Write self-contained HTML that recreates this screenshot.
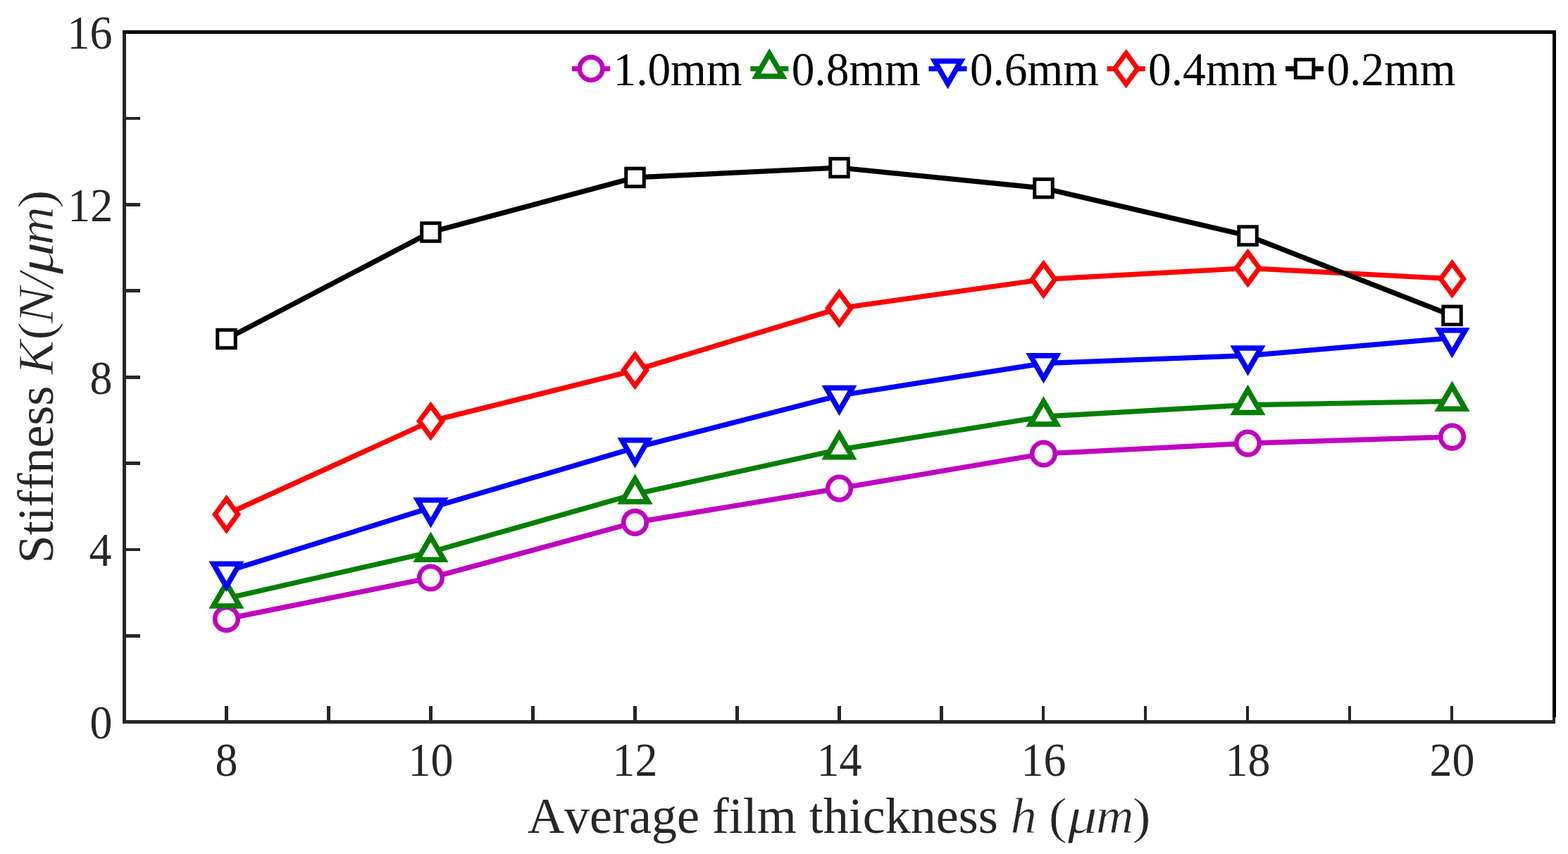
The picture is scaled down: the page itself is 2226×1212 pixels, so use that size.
<!DOCTYPE html>
<html lang="en"><head><meta charset="utf-8"><title>Stiffness vs average film thickness</title>
<style>
html,body{margin:0;padding:0;background:#fff;}
body{width:2226px;height:1212px;overflow:hidden;}
svg{display:block;}
text{font-family:"Liberation Serif","DejaVu Serif",serif;font-kerning:none;font-variant-ligatures:none;}
.tk{font-size:64px;fill:#262626;}
.lg{font-size:64px;fill:#000;}
.lb{font-size:72px;fill:#262626;}
.it{font-style:italic;}
.th{stroke:#fff;stroke-width:0.8px;}
</style></head><body>
<svg role="img" width="2226" height="1212" viewBox="0 0 2226 1212">
<title>Stiffness K(N/μm) versus Average film thickness h (μm)</title>
<desc>Line chart of Stiffness K(N/μm) against Average film thickness h (μm) from 8 to 20 for five series: 1.0mm, 0.8mm, 0.6mm, 0.4mm and 0.2mm.</desc>
<rect x="0" y="0" width="2226" height="1212" fill="#fff"/>
<g fill="#262626" shape-rendering="crispEdges">
<rect x="174" y="43" width="5" height="984"/>
<rect x="174" y="1022" width="2034" height="5"/>
<rect x="319" y="1002" width="5" height="21"/>
<rect x="464" y="1002" width="5" height="21"/>
<rect x="609" y="1002" width="5" height="21"/>
<rect x="754" y="1002" width="5" height="21"/>
<rect x="899" y="1002" width="5" height="21"/>
<rect x="1044" y="1002" width="5" height="21"/>
<rect x="1189" y="1002" width="5" height="21"/>
<rect x="1334" y="1002" width="5" height="21"/>
<rect x="1479" y="1002" width="4" height="21"/>
<rect x="1624" y="1002" width="4" height="21"/>
<rect x="1769" y="1002" width="4" height="21"/>
<rect x="1914" y="1002" width="4" height="21"/>
<rect x="2059" y="1002" width="4" height="21"/>
<rect x="2204" y="1002" width="4" height="21"/>
<rect x="178" y="900" width="21" height="5"/>
<rect x="178" y="778" width="21" height="4"/>
<rect x="178" y="655" width="21" height="5"/>
<rect x="178" y="532.5" width="21" height="5"/>
<rect x="178" y="410" width="21" height="5"/>
<rect x="178" y="288" width="21" height="5"/>
<rect x="178" y="166" width="21" height="4"/>
</g>
<g fill="#000" shape-rendering="crispEdges">
<rect x="174" y="43" width="2035" height="5"/>
<rect x="2204" y="43" width="5" height="975"/>
</g>
<polyline points="321.5,878.4 611.5,820 901.5,741.4 1191.5,693.1 1481.5,644 1771.5,629.1 2061.5,620.1" fill="none" stroke="#BF00BF" stroke-width="7.2" stroke-linejoin="round"/>
<circle cx="321.5" cy="878.4" r="16.3" fill="#fff" stroke="#BF00BF" stroke-width="6.6"/>
<circle cx="611.5" cy="820" r="16.3" fill="#fff" stroke="#BF00BF" stroke-width="6.6"/>
<circle cx="901.5" cy="741.4" r="16.3" fill="#fff" stroke="#BF00BF" stroke-width="6.6"/>
<circle cx="1191.5" cy="693.1" r="16.3" fill="#fff" stroke="#BF00BF" stroke-width="6.6"/>
<circle cx="1481.5" cy="644" r="16.3" fill="#fff" stroke="#BF00BF" stroke-width="6.6"/>
<circle cx="1771.5" cy="629.1" r="16.3" fill="#fff" stroke="#BF00BF" stroke-width="6.6"/>
<circle cx="2061.5" cy="620.1" r="16.3" fill="#fff" stroke="#BF00BF" stroke-width="6.6"/>
<polyline points="321.5,849.2 611.5,783.4 901.5,701.3 1191.5,638.1 1481.5,591.2 1771.5,574.7 2061.5,569.5" fill="none" stroke="#007F00" stroke-width="7.2" stroke-linejoin="round"/>
<polygon points="321.5,827.7 302.88,859.95 340.12,859.95" fill="#fff" stroke="#007F00" stroke-width="7.5" stroke-linejoin="miter" stroke-miterlimit="10"/>
<polygon points="611.5,761.9 592.88,794.15 630.12,794.15" fill="#fff" stroke="#007F00" stroke-width="7.5" stroke-linejoin="miter" stroke-miterlimit="10"/>
<polygon points="901.5,679.8 882.88,712.05 920.12,712.05" fill="#fff" stroke="#007F00" stroke-width="7.5" stroke-linejoin="miter" stroke-miterlimit="10"/>
<polygon points="1191.5,616.6 1172.88,648.85 1210.12,648.85" fill="#fff" stroke="#007F00" stroke-width="7.5" stroke-linejoin="miter" stroke-miterlimit="10"/>
<polygon points="1481.5,569.7 1462.88,601.95 1500.12,601.95" fill="#fff" stroke="#007F00" stroke-width="7.5" stroke-linejoin="miter" stroke-miterlimit="10"/>
<polygon points="1771.5,553.2 1752.88,585.45 1790.12,585.45" fill="#fff" stroke="#007F00" stroke-width="7.5" stroke-linejoin="miter" stroke-miterlimit="10"/>
<polygon points="2061.5,548 2042.88,580.25 2080.12,580.25" fill="#fff" stroke="#007F00" stroke-width="7.5" stroke-linejoin="miter" stroke-miterlimit="10"/>
<polyline points="321.5,811 611.5,720.5 901.5,635.5 1191.5,561.3 1481.5,515.6 1771.5,504.7 2061.5,479.5" fill="none" stroke="#0000FF" stroke-width="7.2" stroke-linejoin="round"/>
<polygon points="321.5,832.5 302.88,800.25 340.12,800.25" fill="#fff" stroke="#0000FF" stroke-width="7.5" stroke-linejoin="miter" stroke-miterlimit="10"/>
<polygon points="611.5,742 592.88,709.75 630.12,709.75" fill="#fff" stroke="#0000FF" stroke-width="7.5" stroke-linejoin="miter" stroke-miterlimit="10"/>
<polygon points="901.5,657 882.88,624.75 920.12,624.75" fill="#fff" stroke="#0000FF" stroke-width="7.5" stroke-linejoin="miter" stroke-miterlimit="10"/>
<polygon points="1191.5,582.8 1172.88,550.55 1210.12,550.55" fill="#fff" stroke="#0000FF" stroke-width="7.5" stroke-linejoin="miter" stroke-miterlimit="10"/>
<polygon points="1481.5,537.1 1462.88,504.85 1500.12,504.85" fill="#fff" stroke="#0000FF" stroke-width="7.5" stroke-linejoin="miter" stroke-miterlimit="10"/>
<polygon points="1771.5,526.2 1752.88,493.95 1790.12,493.95" fill="#fff" stroke="#0000FF" stroke-width="7.5" stroke-linejoin="miter" stroke-miterlimit="10"/>
<polygon points="2061.5,501 2042.88,468.75 2080.12,468.75" fill="#fff" stroke="#0000FF" stroke-width="7.5" stroke-linejoin="miter" stroke-miterlimit="10"/>
<polyline points="321.5,729.9 611.5,597.7 901.5,525.5 1191.5,437.5 1481.5,396.5 1771.5,380.5 2061.5,395.7" fill="none" stroke="#FF0000" stroke-width="7.2" stroke-linejoin="round"/>
<polygon points="321.5,707.8 337.7,729.9 321.5,752 305.3,729.9" fill="#fff" stroke="#FF0000" stroke-width="7" stroke-linejoin="miter" stroke-miterlimit="10"/>
<polygon points="611.5,575.6 627.7,597.7 611.5,619.8 595.3,597.7" fill="#fff" stroke="#FF0000" stroke-width="7" stroke-linejoin="miter" stroke-miterlimit="10"/>
<polygon points="901.5,503.4 917.7,525.5 901.5,547.6 885.3,525.5" fill="#fff" stroke="#FF0000" stroke-width="7" stroke-linejoin="miter" stroke-miterlimit="10"/>
<polygon points="1191.5,415.4 1207.7,437.5 1191.5,459.6 1175.3,437.5" fill="#fff" stroke="#FF0000" stroke-width="7" stroke-linejoin="miter" stroke-miterlimit="10"/>
<polygon points="1481.5,374.4 1497.7,396.5 1481.5,418.6 1465.3,396.5" fill="#fff" stroke="#FF0000" stroke-width="7" stroke-linejoin="miter" stroke-miterlimit="10"/>
<polygon points="1771.5,358.4 1787.7,380.5 1771.5,402.6 1755.3,380.5" fill="#fff" stroke="#FF0000" stroke-width="7" stroke-linejoin="miter" stroke-miterlimit="10"/>
<polygon points="2061.5,373.6 2077.7,395.7 2061.5,417.8 2045.3,395.7" fill="#fff" stroke="#FF0000" stroke-width="7" stroke-linejoin="miter" stroke-miterlimit="10"/>
<polyline points="321.5,481 611.5,329.5 901.5,251.9 1191.5,238 1481.5,267.1 1771.5,334.6 2061.5,447.8" fill="none" stroke="#000000" stroke-width="7.2" stroke-linejoin="round"/>
<rect x="308.75" y="468.25" width="25.5" height="25.5" fill="#fff" stroke="#000000" stroke-width="5"/>
<rect x="598.75" y="316.75" width="25.5" height="25.5" fill="#fff" stroke="#000000" stroke-width="5"/>
<rect x="888.75" y="239.15" width="25.5" height="25.5" fill="#fff" stroke="#000000" stroke-width="5"/>
<rect x="1178.75" y="225.25" width="25.5" height="25.5" fill="#fff" stroke="#000000" stroke-width="5"/>
<rect x="1468.75" y="254.35" width="25.5" height="25.5" fill="#fff" stroke="#000000" stroke-width="5"/>
<rect x="1758.75" y="321.85" width="25.5" height="25.5" fill="#fff" stroke="#000000" stroke-width="5"/>
<rect x="2048.75" y="435.05" width="25.5" height="25.5" fill="#fff" stroke="#000000" stroke-width="5"/>
<rect x="812.1" y="94" width="54" height="7.2" fill="#BF00BF"/>
<circle cx="839.1" cy="97.4" r="16.3" fill="#fff" stroke="#BF00BF" stroke-width="6.6"/>
<text class="lg" transform="translate(870.5,121) scale(1.02,1.045)">1.0mm</text>
<rect x="1065.3" y="94" width="54" height="7.2" fill="#007F00"/>
<polygon points="1092.3,75.9 1073.68,108.15 1110.92,108.15" fill="#fff" stroke="#007F00" stroke-width="7.5" stroke-linejoin="miter" stroke-miterlimit="10"/>
<text class="lg" transform="translate(1123.7,121) scale(1.02,1.045)">0.8mm</text>
<rect x="1318.5" y="94" width="54" height="7.2" fill="#0000FF"/>
<polygon points="1345.5,118.9 1326.88,86.65 1364.12,86.65" fill="#fff" stroke="#0000FF" stroke-width="7.5" stroke-linejoin="miter" stroke-miterlimit="10"/>
<text class="lg" transform="translate(1376.9,121) scale(1.02,1.045)">0.6mm</text>
<rect x="1571.7" y="94" width="54" height="7.2" fill="#FF0000"/>
<polygon points="1598.7,75.3 1614.9,97.4 1598.7,119.5 1582.5,97.4" fill="#fff" stroke="#FF0000" stroke-width="7" stroke-linejoin="miter" stroke-miterlimit="10"/>
<text class="lg" transform="translate(1630.1,121) scale(1.02,1.045)">0.4mm</text>
<rect x="1825" y="94" width="54" height="7.2" fill="#000000"/>
<rect x="1839.25" y="84.65" width="25.5" height="25.5" fill="#fff" stroke="#000000" stroke-width="5"/>
<text class="lg" transform="translate(1883.4,121) scale(1.02,1.045)">0.2mm</text>
<text class="tk" transform="translate(321.5,1101) scale(1,1.045)" text-anchor="middle">8</text>
<text class="tk" transform="translate(611.5,1101) scale(1,1.045)" text-anchor="middle">10</text>
<text class="tk" transform="translate(901.5,1101) scale(1,1.045)" text-anchor="middle">12</text>
<text class="tk" transform="translate(1191.5,1101) scale(1,1.045)" text-anchor="middle">14</text>
<text class="tk" transform="translate(1481.5,1101) scale(1,1.045)" text-anchor="middle">16</text>
<text class="tk" transform="translate(1771.5,1101) scale(1,1.045)" text-anchor="middle">18</text>
<text class="tk" transform="translate(2061.5,1101) scale(1,1.045)" text-anchor="middle">20</text>
<text class="tk" transform="translate(159.5,1048.1) scale(1,1.045)" text-anchor="end">0</text>
<text class="tk" transform="translate(158.5,803.35) scale(1,1.045)" text-anchor="end">4</text>
<text class="tk" transform="translate(159.5,558.6) scale(1,1.045)" text-anchor="end">8</text>
<text class="tk" transform="translate(160.3,313.85) scale(1,1.045)" text-anchor="end">12</text>
<text class="tk" transform="translate(159.5,69.1) scale(1,1.045)" text-anchor="end">16</text>
<text class="lb" x="749" y="1182">Average film thickness <tspan class="it th" x="1434.6" textLength="37.44" lengthAdjust="spacingAndGlyphs">h</tspan> <tspan class="th" x="1488.6" textLength="26.38" lengthAdjust="spacingAndGlyphs">(</tspan><tspan class="it th" x="1515.8" textLength="41.92" lengthAdjust="spacingAndGlyphs">μ</tspan><tspan class="it th" x="1556" textLength="53.56" lengthAdjust="spacingAndGlyphs">m</tspan><tspan class="th" x="1607.6" textLength="26.38" lengthAdjust="spacingAndGlyphs">)</tspan></text>
<text class="lb" transform="translate(75,800.5) rotate(-90)" x="0.9" y="0">Stiffness <tspan class="it th" x="268.9" textLength="48.5" lengthAdjust="spacingAndGlyphs">K</tspan><tspan class="th" x="317.6" textLength="26.38" lengthAdjust="spacingAndGlyphs">(</tspan><tspan class="it th" x="341" textLength="52.34" lengthAdjust="spacingAndGlyphs">N</tspan><tspan class="it th" x="392" textLength="20.6" lengthAdjust="spacingAndGlyphs">/</tspan><tspan class="it th" x="411" textLength="46.26" lengthAdjust="spacingAndGlyphs">μ</tspan><tspan class="it th" x="452.7" textLength="54.6" lengthAdjust="spacingAndGlyphs">m</tspan><tspan class="th" x="504.8" textLength="26.38" lengthAdjust="spacingAndGlyphs">)</tspan></text>
</svg>
</body></html>
